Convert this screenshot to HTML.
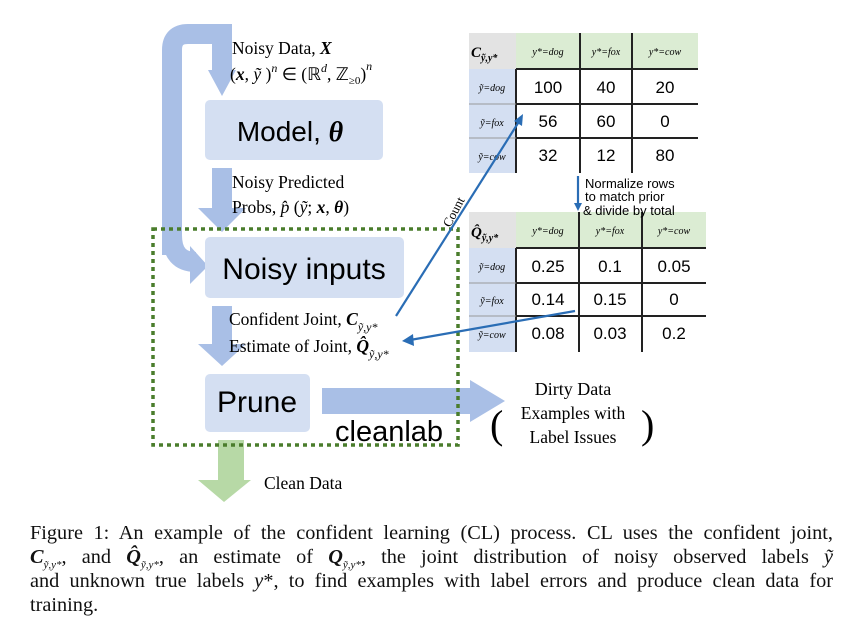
<!DOCTYPE html>
<html><head><meta charset="utf-8"><style>
body{margin:0;background:#fff;width:861px;height:636px;overflow:hidden;position:relative;font-family:"Liberation Serif",serif}
svg{position:absolute;left:0;top:0}
.cap{position:absolute;left:30px;top:521px;width:803px;font-size:20.3px;line-height:24px;color:#111;font-family:"Liberation Serif",serif}
.cap div{text-align:justify;text-align-last:justify;white-space:nowrap;height:24px}
.cap div.l{text-align-last:left}
sub{font-size:11px;line-height:0}
</style></head><body>
<svg width="861" height="636" viewBox="0 0 861 636" font-family="Liberation Serif, serif">
<path d="M172 255 L172 50 Q172 34 188 34 L222 34 L222 70" fill="none" stroke="#a9bfe6" stroke-width="20"/>
<path d="M172 235 Q172 262 196 262" fill="none" stroke="#a9bfe6" stroke-width="20"/>
<polygon points="208,70 236,70 222,96" fill="#a9bfe6"/>
<polygon points="190,246 208,266 190,284" fill="#a9bfe6"/>
<rect x="212" y="168" width="20" height="42" fill="#a9bfe6"/>
<polygon points="198,208 246,208 222,232" fill="#a9bfe6"/>
<rect x="212" y="306" width="20" height="40" fill="#a9bfe6"/>
<polygon points="198,344 246,344 222,366" fill="#a9bfe6"/>
<rect x="218" y="440" width="26" height="40" fill="#b7d9a6"/>
<polygon points="198,480 251,480 224,502" fill="#b7d9a6"/>
<rect x="322" y="388" width="152" height="26" fill="#a9bfe6"/>
<polygon points="470,380 505,401 470,422" fill="#a9bfe6"/>
<rect x="205" y="100" width="178" height="60" rx="5" fill="#d4dff2"/>
<rect x="205" y="237" width="199" height="61" rx="5" fill="#d4dff2"/>
<rect x="205" y="374" width="105" height="58" rx="5" fill="#d4dff2"/>
<text x="290" y="141" font-size="28" text-anchor="middle" font-family="Liberation Sans, sans-serif">Model, <tspan font-weight="bold" font-style="italic" font-family="Liberation Serif, serif">θ</tspan></text>
<text x="304" y="279" font-size="30" text-anchor="middle" font-family="Liberation Sans, sans-serif">Noisy inputs</text>
<text x="257" y="412" font-size="30" text-anchor="middle" font-family="Liberation Sans, sans-serif">Prune</text>
<text x="335" y="441" font-size="29" font-family="Liberation Sans, sans-serif">cleanlab</text>
<rect x="153" y="229" width="305" height="216" fill="none" stroke="#4a7d2c" stroke-width="3.5" stroke-dasharray="4,4"/>
<g font-size="17.5">
<text x="232" y="54">Noisy Data, <tspan font-weight="bold" font-style="italic">X</tspan></text>
<text x="230" y="80">(<tspan font-weight="bold" font-style="italic">x</tspan>, <tspan font-style="italic">ỹ</tspan> )<tspan font-size="12" dy="-8" font-style="italic">n</tspan><tspan dy="8"> ∈ (ℝ</tspan><tspan font-size="12" dy="-8" font-style="italic">d</tspan><tspan dy="8">, ℤ</tspan><tspan font-size="11" dy="4">≥0</tspan><tspan dy="-4">)</tspan><tspan font-size="12" dy="-10" font-style="italic">n</tspan></text>
<text x="232" y="188">Noisy Predicted</text>
<text x="232" y="213">Probs, <tspan font-style="italic">p̂</tspan> (<tspan font-style="italic">ỹ</tspan>; <tspan font-weight="bold" font-style="italic">x</tspan>, <tspan font-weight="bold" font-style="italic">θ</tspan>)</text>
<text x="229" y="325">Confident Joint, <tspan font-weight="bold" font-style="italic">C</tspan><tspan font-size="12" dy="6" font-style="italic">ỹ,y*</tspan></text>
<text x="229" y="352">Estimate of Joint, <tspan font-weight="bold" font-style="italic">Q̂</tspan><tspan font-size="12" dy="6" font-style="italic">ỹ,y*</tspan></text>
<text x="264" y="489">Clean Data</text>
<text x="573" y="395" text-anchor="middle" font-size="18">Dirty Data</text>
<text x="573" y="419" text-anchor="middle">Examples with</text>
<text x="573" y="443" text-anchor="middle">Label Issues</text>
</g>
<text x="490" y="438" font-size="40" font-family="Liberation Serif, serif">(</text>
<text x="641" y="438" font-size="40" font-family="Liberation Serif, serif">)</text>
<g font-family="Liberation Sans, sans-serif">
<rect x="469" y="33" width="47" height="36" fill="#e3e3e3"/>
<rect x="516" y="33" width="182" height="36" fill="#dbecd3"/>
<rect x="469" y="69" width="47" height="104" fill="#d4dff2"/>
<g stroke="#222" stroke-width="2">
<line x1="516" y1="69" x2="698" y2="69"/><line x1="516" y1="104" x2="698" y2="104"/><line x1="516" y1="138" x2="698" y2="138"/>
<line x1="516" y1="69" x2="516" y2="173"/><line x1="580" y1="33" x2="580" y2="173"/><line x1="632" y1="33" x2="632" y2="173"/>
</g>
<g stroke="#999" stroke-width="1"><line x1="469" y1="104" x2="516" y2="104"/><line x1="469" y1="138" x2="516" y2="138"/></g>
<text x="471" y="57" font-size="15" font-weight="bold" font-style="italic" font-family="Liberation Serif, serif">C<tspan font-size="10" dy="4">ỹ,y*</tspan></text>
<g font-size="10" font-style="italic" font-family="Liberation Serif, serif" text-anchor="middle">
<text x="548" y="55">y*=dog</text><text x="606" y="55">y*=fox</text><text x="665" y="55">y*=cow</text>
<text x="492" y="91">ỹ=dog</text><text x="492" y="126">ỹ=fox</text><text x="492" y="160">ỹ=cow</text>
</g>
<g font-size="17" text-anchor="middle">
<text x="548" y="93">100</text><text x="606" y="93">40</text><text x="665" y="93">20</text>
<text x="548" y="127">56</text><text x="606" y="127">60</text><text x="665" y="127">0</text>
<text x="548" y="161">32</text><text x="606" y="161">12</text><text x="665" y="161">80</text>
</g>
<rect x="469" y="212" width="47" height="36" fill="#e3e3e3"/>
<rect x="516" y="212" width="190" height="36" fill="#dbecd3"/>
<rect x="469" y="248" width="47" height="104" fill="#d4dff2"/>
<g stroke="#222" stroke-width="2">
<line x1="516" y1="248" x2="706" y2="248"/><line x1="516" y1="283" x2="706" y2="283"/><line x1="516" y1="316" x2="706" y2="316"/>
<line x1="516" y1="248" x2="516" y2="352"/><line x1="579" y1="212" x2="579" y2="352"/><line x1="642" y1="212" x2="642" y2="352"/>
</g>
<g stroke="#999" stroke-width="1"><line x1="469" y1="283" x2="516" y2="283"/><line x1="469" y1="316" x2="516" y2="316"/></g>
<text x="471" y="237" font-size="15" font-weight="bold" font-style="italic" font-family="Liberation Serif, serif">Q̂<tspan font-size="10" dy="4">ỹ,y*</tspan></text>
<g font-size="10" font-style="italic" font-family="Liberation Serif, serif" text-anchor="middle">
<text x="548" y="234">y*=dog</text><text x="610" y="234">y*=fox</text><text x="674" y="234">y*=cow</text>
<text x="492" y="270">ỹ=dog</text><text x="492" y="304">ỹ=fox</text><text x="492" y="338">ỹ=cow</text>
</g>
<g font-size="17" text-anchor="middle">
<text x="548" y="272">0.25</text><text x="610" y="272">0.1</text><text x="674" y="272">0.05</text>
<text x="548" y="305">0.14</text><text x="610" y="305">0.15</text><text x="674" y="305">0</text>
<text x="548" y="339">0.08</text><text x="610" y="339">0.03</text><text x="674" y="339">0.2</text>
</g>
<text x="585" y="188" font-size="13">Normalize rows</text>
<text x="585" y="201" font-size="13">to match prior</text>
<text x="583" y="215" font-size="13">&amp; divide by total</text>
</g>
<g stroke="#2a6db5" stroke-width="2.2" fill="#2a6db5">
<line x1="578" y1="176" x2="578" y2="205"/>
<polygon points="574,203 582,203 578,211" stroke="none"/>
<line x1="396" y1="316" x2="520" y2="120"/>
<polygon points="523,114 522,126 514,121" stroke="none"/>
<line x1="575" y1="311" x2="410" y2="340"/>
<polygon points="402,341 413,334 414,346" stroke="none"/>
</g>
<text x="0" y="0" font-size="13" transform="translate(450,228) rotate(-62)">Count</text>
</svg>
<div class="cap">
<div>Figure 1: An example of the confident learning (CL) process. CL uses the confident joint,</div>
<div><b><i>C</i></b><sub><i>ỹ,y*</i></sub>, and <b><i>Q̂</i></b><sub><i>ỹ,y*</i></sub>, an estimate of <b><i>Q</i></b><sub><i>ỹ,y*</i></sub>, the joint distribution of noisy observed labels <i>ỹ</i></div>
<div>and unknown true labels <i>y</i>*, to find examples with label errors and produce clean data for</div>
<div class="l">training.</div>
</div>
</body></html>
